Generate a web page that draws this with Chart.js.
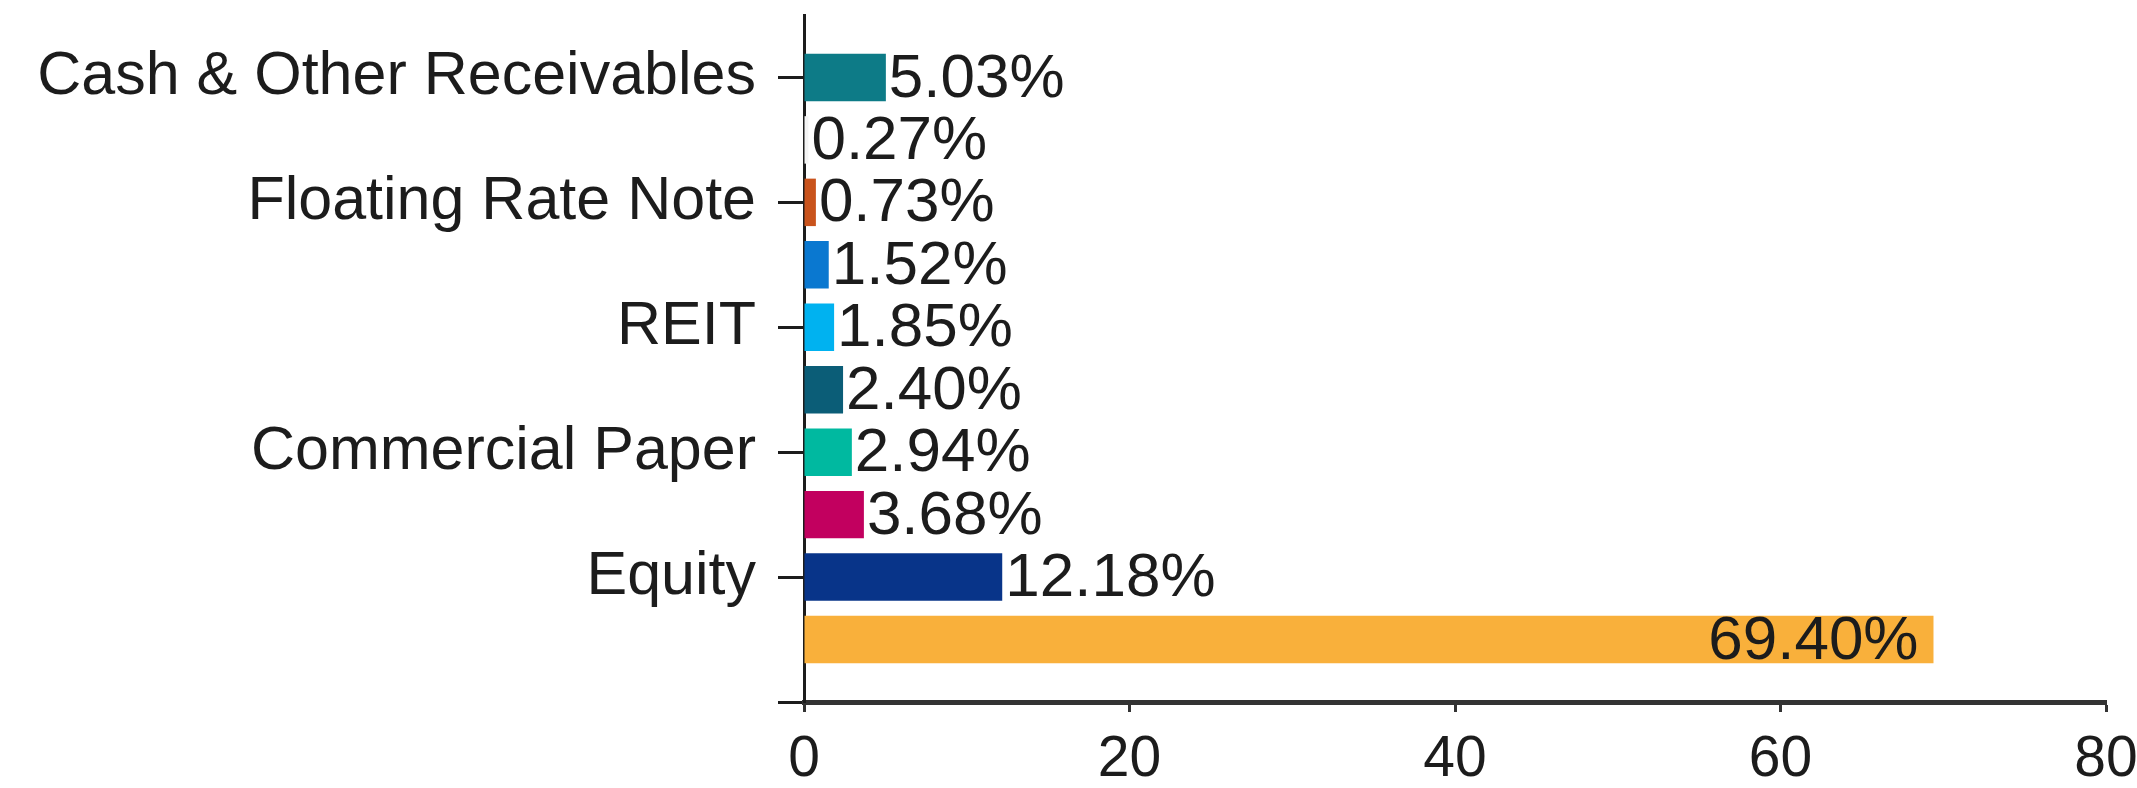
<!DOCTYPE html>
<html>
<head>
<meta charset="utf-8">
<script src="https://cdn.jsdelivr.net/npm/chart.js@4/dist/chart.umd.min.js"></script>
<style>
  html, body { margin: 0; padding: 0; background: #fff; }
  #wrap { width: 2137px; height: 788px; }
</style>
</head>
<body>
<div id="wrap"><canvas id="allocChart" width="2137" height="788"></canvas></div>
<script>
/* Asset allocation - horizontal bar chart */

// rows from top to bottom; unlabelled rows are hidden in the original
const categories = [
  "Cash & Other Receivables", "", "Floating Rate Note", "", "REIT",
  "", "Commercial Paper", "", "Equity", ""
];
const values = [5.03, 0.27, 0.73, 1.52, 1.85, 2.40, 2.94, 3.68, 12.18, 69.40];
const barColors = [
  "#0d7b87", "#f4f4f4", "#c9531c", "#0a78d0", "#00b2f0",
  "#0b5d77", "#00b9a0", "#c2005f", "#083489", "#f9b03b"
];
const xTicks = [0, 20, 40, 60, 80];

const FONT = "'Liberation Sans', Arial, sans-serif";
const INK = "#1c1c1c";

// empty slot above and below the bars, like the original plot
const labels = ["", ...categories, ""];
const data = [null, ...values, null];
const colors = ["#fff", ...barColors, "#fff"];

const valueLabels = {
  id: "valueLabels",
  afterDatasetsDraw(chart) {
    const ctx = chart.ctx;
    const meta = chart.getDatasetMeta(0);
    ctx.save();
    ctx.font = "62px " + FONT;
    ctx.fillStyle = INK;
    ctx.textBaseline = "middle";
    meta.data.forEach((bar, i) => {
      const v = data[i];
      if (v == null) return;
      const txt = v.toFixed(2) + "%";
      if (v > 50) {
        ctx.textAlign = "right";
        ctx.fillText(txt, bar.x - 15, bar.y + 2);
      } else {
        ctx.textAlign = "left";
        ctx.fillText(txt, bar.x + 3, bar.y + 2);
      }
    });
    ctx.restore();
  }
};

new Chart(document.getElementById("allocChart"), {
  type: "bar",
  data: {
    labels: labels,
    datasets: [{
      data: data,
      backgroundColor: colors,
      borderWidth: 0,
      barPercentage: 0.76,
      categoryPercentage: 1
    }]
  },
  options: {
    indexAxis: "y",
    responsive: false,
    animation: false,
    devicePixelRatio: 1,
    layout: { padding: { top: 15, right: 31, left: 0, bottom: 0 } },
    plugins: { legend: { display: false }, tooltip: { enabled: false } },
    scales: {
      x: {
        min: 0,
        max: 80,
        afterBuildTicks: (axis) => { axis.ticks = xTicks.map(v => ({ value: v })); },
        afterFit: (axis) => {
          axis.height = 86;
          axis.paddingLeft = 0;
          axis.paddingRight = 0;
        },
        border: { color: "#333", width: 5 },
        grid: {
          drawOnChartArea: false,
          tickLength: 10,
          tickWidth: 3,
          tickColor: "#333"
        },
        ticks: {
          color: INK,
          padding: 14,
          maxRotation: 0,
          font: { family: FONT, size: 57 }
        }
      },
      y: {
        offset: false,
        z: 1,
        afterFit: (axis) => {
          axis.width = 804;
          axis.paddingTop = 0;
          axis.paddingBottom = 0;
        },
        border: { color: INK, width: 3 },
        grid: {
          offset: false,
          drawOnChartArea: false,
          tickLength: 26,
          tickWidth: 3,
          tickColor: (c) => (c.index % 2 === 1 ? INK : "rgba(0,0,0,0)")
        },
        ticks: {
          autoSkip: false,
          color: INK,
          padding: 22,
          font: { family: FONT, size: 61 }
        }
      }
    }
  },
  plugins: [valueLabels]
});
</script>
</body>
</html>
